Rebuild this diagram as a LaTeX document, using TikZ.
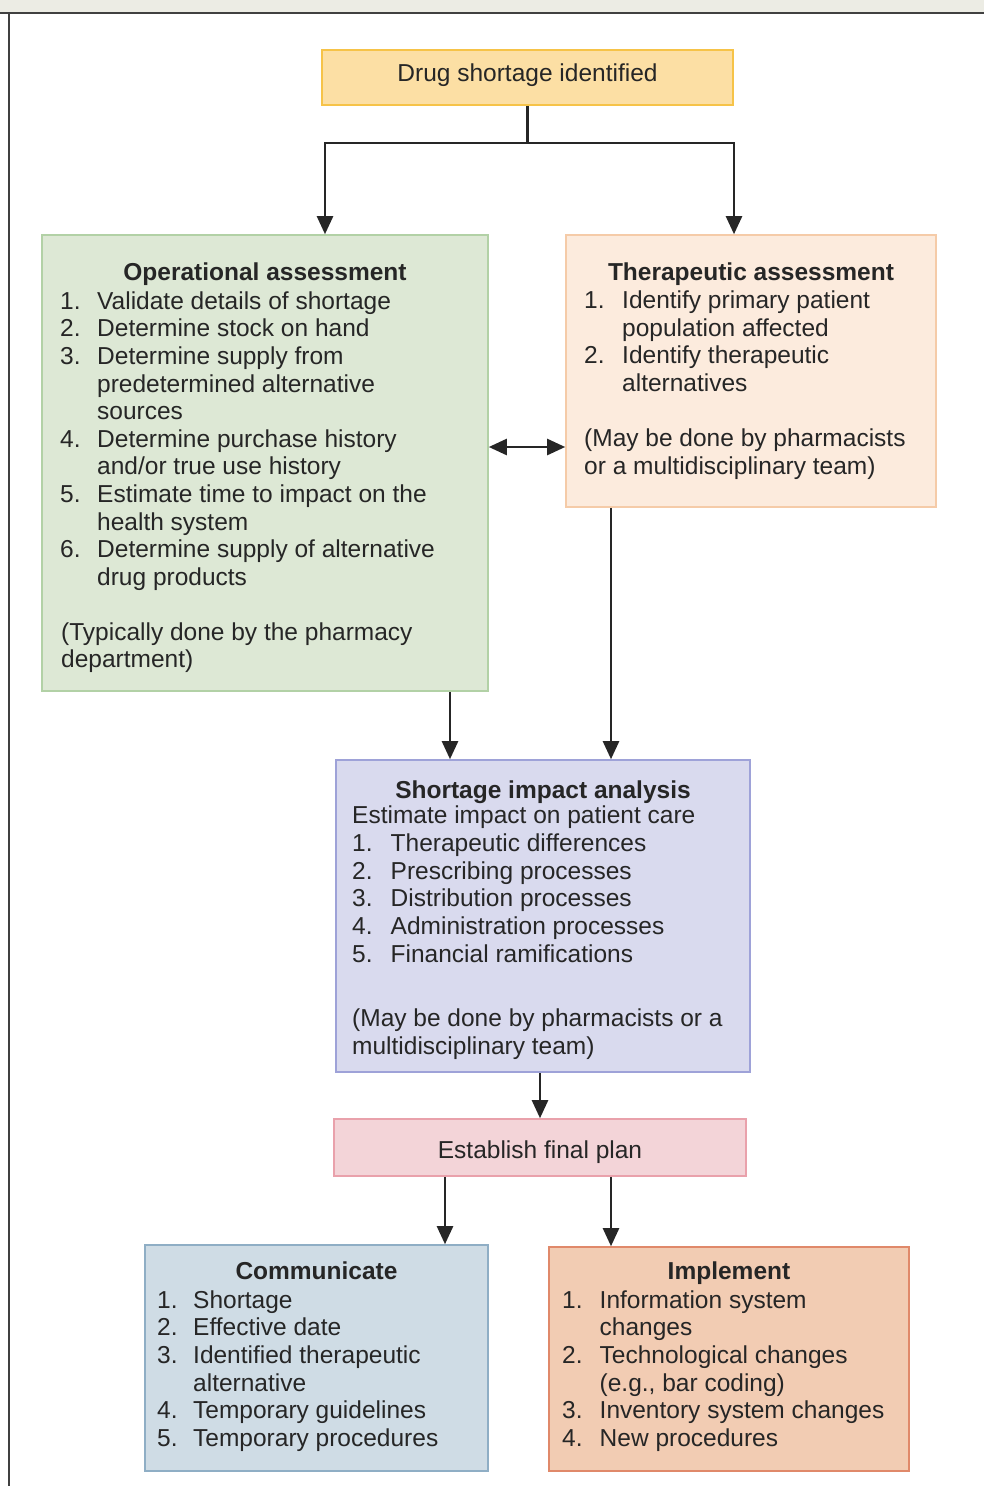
\documentclass[tikz,border=0pt]{standalone}
\usepackage{fontspec}
\setmainfont{Liberation Sans}
\usetikzlibrary{arrows.meta}
\definecolor{txtc}{HTML}{262626}
\definecolor{bandc}{HTML}{ECECE4}
\definecolor{topF}{HTML}{FCDFA4}\definecolor{topD}{HTML}{F6C348}
\definecolor{opF}{HTML}{DDE8D5}\definecolor{opD}{HTML}{B2D1A6}
\definecolor{thF}{HTML}{FCEBDD}\definecolor{thD}{HTML}{F5CBA8}
\definecolor{siF}{HTML}{D9DAEE}\definecolor{siD}{HTML}{9EA2D8}
\definecolor{plF}{HTML}{F3D4D8}\definecolor{plD}{HTML}{E9A1AB}
\definecolor{coF}{HTML}{CFDCE5}\definecolor{coD}{HTML}{8FAEC5}
\definecolor{imF}{HTML}{F2CCB3}\definecolor{imD}{HTML}{E0896A}
\newcommand{\numlist}[2]{\begin{tabular}[t]{@{}p{#1}@{}l@{}}#2\end{tabular}}
\newcommand{\plainlines}[1]{\begin{tabular}[t]{@{}l@{}}#1\end{tabular}}
\begin{document}
\begin{tikzpicture}[x=1pt,y=-1pt,
  box/.style={draw, line width=1.6pt, inner sep=0pt},
  txt/.style={inner sep=0pt, text=txtc, font=\fontsize{24.5}{27.6}\selectfont},
  ttl/.style={inner sep=0pt, text=txtc, font=\fontsize{24.5}{27.6}\selectfont\bfseries},
  con/.style={line width=2.4pt, draw=black!85},
  arr/.style={con, -{Triangle[length=18pt,width=16pt]}},
  darr/.style={con, {Triangle[length=18pt,width=16pt]}-{Triangle[length=18pt,width=16pt]}}]
\useasboundingbox (0,0) rectangle (984,1486);
\fill[white] (0,0) rectangle (984,1486);
% frame
\fill[bandc] (0,0) rectangle (984,13);
\draw[line width=2pt, black!75] (0,13) -- (984,13);
\draw[line width=2pt, black!75] (9,13) -- (9,1486);
% boxes
\node[box, fill=topF, draw=topD, minimum width=411pt, minimum height=55pt] (top) at (527.5,77.5) {};
\node[box, fill=opF, draw=opD, minimum width=446pt, minimum height=456pt] (op) at (265,463) {};
\node[box, fill=thF, draw=thD, minimum width=370pt, minimum height=272pt] (ther) at (751,371) {};
\node[box, fill=siF, draw=siD, minimum width=414pt, minimum height=312pt] (sia) at (543,916) {};
\node[box, fill=plF, draw=plD, minimum width=412pt, minimum height=57pt] (plan) at (540,1147.5) {};
\node[box, fill=coF, draw=coD, minimum width=343pt, minimum height=226pt] (comm) at (316.5,1358) {};
\node[box, fill=imF, draw=imD, minimum width=360pt, minimum height=224pt] (impl) at (729,1359) {};
% texts
\node[txt, anchor=base] (topt) at (527.5,81.7) {Drug shortage identified};
\node[ttl, anchor=base] (opt) at (265,280) {Operational assessment};
\node[txt, anchor=base west] (opl) at (60,309.3) {\numlist{37pt}{%
1. & Validate details of shortage\\
2. & Determine stock on hand\\
3. & Determine supply from\\
 & predetermined alternative\\
 & sources\\
4. & Determine purchase history\\
 & and/or true use history\\
5. & Estimate time to impact on the\\
 & health system\\
6. & Determine supply of alternative\\
 & drug products}};
\node[txt, anchor=base west] (opn) at (61,640) {\plainlines{(Typically done by the pharmacy\\department)}};
\node[ttl, anchor=base] (tht) at (751,280) {Therapeutic assessment};
\node[txt, anchor=base west] (thl) at (584,308.7) {\numlist{38pt}{%
1. & Identify primary patient\\
 & population affected\\
2. & Identify therapeutic\\
 & alternatives}};
\node[txt, anchor=base west] (thn) at (584,446.7) {\plainlines{(May be done by pharmacists\\or a multidisciplinary team)}};
\node[ttl, anchor=base] (sit) at (543,798) {Shortage impact analysis};
\node[txt, anchor=base west] (sie) at (352,823.3) {Estimate impact on patient care};
\node[txt, anchor=base west] (sil) at (352,851.7) {\numlist{38.5pt}{%
1. & Therapeutic differences\\
2. & Prescribing processes\\
3. & Distribution processes\\
4. & Administration processes\\
5. & Financial ramifications}};
\node[txt, anchor=base west] (sin) at (352,1026.7) {\plainlines{(May be done by pharmacists or a\\multidisciplinary team)}};
\node[txt, anchor=base] (plt) at (540,1158.3) {Establish final plan};
\node[ttl, anchor=base] (cot) at (316.5,1279) {Communicate};
\node[txt, anchor=base west] (col) at (157,1308.3) {\numlist{36pt}{%
1. & Shortage\\
2. & Effective date\\
3. & Identified therapeutic\\
 & alternative\\
4. & Temporary guidelines\\
5. & Temporary procedures}};
\node[ttl, anchor=base] (imt) at (729,1279.5) {Implement};
\node[txt, anchor=base west] (iml) at (562,1308.3) {\numlist{37.5pt}{%
1. & Information system\\
 & changes\\
2. & Technological changes\\
 & (e.g., bar coding)\\
3. & Inventory system changes\\
4. & New procedures}};
% connectors
\coordinate (j) at (527.5,143);
\coordinate (xl) at (325,0);
\coordinate (xr) at (734,0);
\coordinate (yd) at (0,447);
\coordinate (x1) at (450,0);
\coordinate (x2) at (611,0);
\coordinate (x3) at (445,0);
\draw[con] (top.south) -- (j);
\draw[arr] (j) -| (op.north -| xl);
\draw[arr] (j) -| (ther.north -| xr);
\draw[darr] (op.east |- yd) -- (ther.west |- yd);
\draw[arr] (op.south -| x1) -- (sia.north -| x1);
\draw[arr] (ther.south -| x2) -- (sia.north -| x2);
\draw[arr] (sia.south -| plan.north) -- (plan.north);
\draw[arr] (plan.south -| x3) -- (comm.north -| x3);
\draw[arr] (plan.south -| x2) -- (impl.north -| x2);
\end{tikzpicture}
\end{document}
